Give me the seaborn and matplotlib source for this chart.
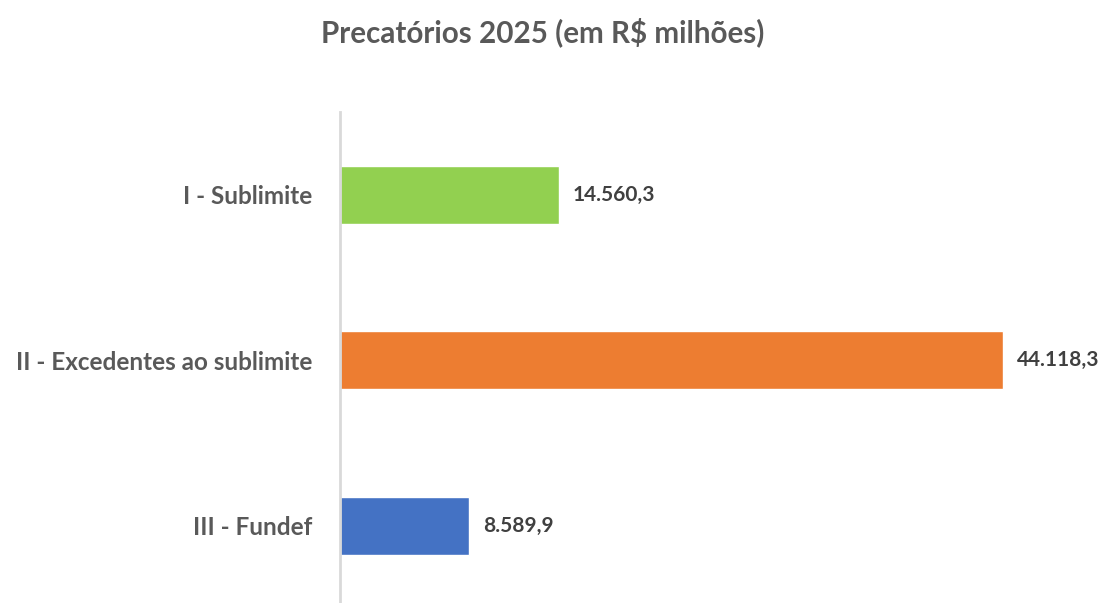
import matplotlib
matplotlib.use("Agg")
import matplotlib.pyplot as plt
import seaborn as sns
import pandas as pd

categories = ["I - Sublimite", "II - Excedentes ao sublimite", "III - Fundef"]
values = [14560.3, 44118.3, 8589.9]
value_labels = ["14.560,3", "44.118,3", "8.589,9"]
colors = ["#92D050", "#ED7D31", "#4472C4"]
title = "Precatórios 2025 (em R$ milhões)"

sns.set_theme(style="white")
plt.rcParams['font.family'] = ['Lato', 'DejaVu Sans']

W, H = 1104, 603
fig = plt.figure(figsize=(W / 100, H / 100), dpi=100)
left_px, right_px, top_px, bottom_px = 340, 1080, 112, 603
ax = fig.add_axes([left_px / W, 1 - bottom_px / H, (right_px - left_px) / W, (bottom_px - top_px) / H])

df = pd.DataFrame({"cat": categories, "val": values})
sns.barplot(data=df, y="cat", x="val", hue="cat", palette=colors, orient="h",
            width=0.35, ax=ax, legend=False, saturation=1)

scale = (1003 - 340) / 44118.3
ax.set_xlim(0, (right_px - left_px) / scale)
band = 165.5
ax.set_ylim(-0.5 + (bottom_px - top_px) / band, -0.5)

for sp in ["top", "right", "bottom"]:
    ax.spines[sp].set_visible(False)
ax.spines["left"].set_color("#d9d9d9")
ax.spines["left"].set_linewidth(2)
ax.set_xticks([])
ax.set_xlabel("")
ax.set_ylabel("")
ax.tick_params(axis="y", length=0, pad=20)
for t in ax.get_yticklabels():
    t.set_fontsize(17.5)
    t.set_fontweight("bold")
    t.set_color("#595959")

for i, (v, lab) in enumerate(zip(values, value_labels)):
    ax.annotate(lab, xy=(v, i), xytext=(10, 0), textcoords="offset points",
                va="center", ha="left", fontsize=15, fontweight="bold", color="#404040")

fig.text(543 / W, 1 - 32 / H, title, ha="center", va="center", fontsize=21.3,
         fontweight="bold", color="#595959")

fig.savefig("out.png", dpi=100, facecolor="white")
